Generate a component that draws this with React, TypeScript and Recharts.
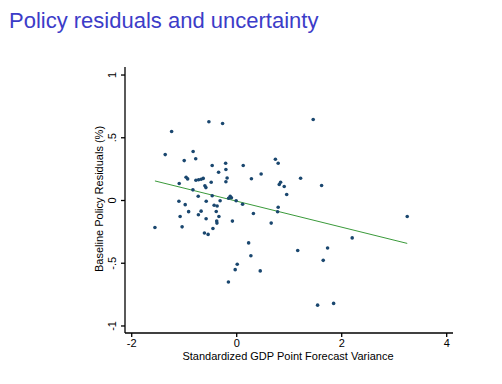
import React from "react";
import { ScatterChart, Scatter, XAxis, YAxis } from "recharts";

const title = "Policy residuals and uncertainty";
const xAxisTitle = "Standardized GDP Point Forecast Variance";
const yAxisTitle = "Baseline Policy Residuals (%)";

const xTicks = [-2, 0, 2, 4];
const xTickLabels = ["-2", "0", "2", "4"];
const yTicks = [-1, -0.5, 0, 0.5, 1];
const yTickLabels = ["-1", "-.5", "0", ".5", "1"];

const forecastVariance = [
  -1.24, -0.53, -0.269, -1.362, -0.83, -0.781, -1.0, -0.467, -0.211, -0.206,
  0.124, -0.345, 0.737, 0.79, 0.465, 0.28, -0.964, -0.935, -0.777, -0.726,
  -0.678, -0.638, -0.183, -0.206, -0.486, -1.095, -0.606, -0.587, 0.81, 0.836,
  0.905, 1.217, 1.457, 1.617, -0.834, -0.733, -0.467, -0.124, -0.101, -0.154,
  -0.011, -1.101, -0.981, -0.581, -0.316, -0.43, -0.373, 0.112, 0.952, 0.79,
  0.779, 3.248, -1.078, -0.916, -0.73, -0.678, -0.39, -0.583, -0.339, -0.381,
  -0.377, -1.04, -1.558, -0.453, -0.082, 0.318, 0.657, -0.615, -0.545, 0.227,
  0.27, 0.01, -0.029, 0.448, -0.158, 2.2, 1.162, 1.731, 1.648, 1.541, 1.846,
];

const policyResiduals = [
  0.55, 0.628, 0.614, 0.366, 0.391, 0.333, 0.318, 0.279, 0.297, 0.247,
  0.279, 0.225, 0.329, 0.297, 0.211, 0.173, 0.185, 0.172, 0.161, 0.165,
  0.169, 0.176, 0.179, 0.149, 0.145, 0.135, 0.117, 0.103, 0.127, 0.145,
  0.111, 0.177, 0.646, 0.119, 0.085, 0.034, 0.038, 0.034, 0.022, 0.018,
  -0.002, -0.006, -0.033, -0.006, -0.002, -0.038, -0.044, -0.03, 0.048, -0.054,
  -0.09, -0.128, -0.128, -0.089, -0.114, -0.085, -0.088, -0.146, -0.128, -0.164,
  -0.18, -0.21, -0.215, -0.223, -0.164, -0.104, -0.18, -0.259, -0.27, -0.338,
  -0.44, -0.508, -0.551, -0.561, -0.649, -0.298, -0.399, -0.379, -0.477, -0.834, -0.82,
];

const fitX = [-1.558, 3.248];
const fitY = [0.156, -0.342];

const points = forecastVariance.map((x, i) => ({ x, y: policyResiduals[i] }));
const fitLine = fitX.map((x, i) => ({ x, y: fitY[i] }));

const FONT = "'Liberation Sans', Arial, sans-serif";

const Dot = (props: any) => {
  const { cx, cy } = props;
  if (cx == null || cy == null) return <g />;
  return <circle cx={cx} cy={cy} r={1.8} fill="#1a476f" />;
};

const NoDot = () => <g />;

const XTick = (props: any) => {
  const { x, y, payload } = props;
  const idx = xTicks.indexOf(payload.value);
  return (
    <text x={x} y={y} dy="0.71em" textAnchor="middle" fontFamily={FONT} fontSize={11} fill="#000">
      {idx >= 0 ? xTickLabels[idx] : payload.value}
    </text>
  );
};

const YTick = (props: any) => {
  const { x, y, payload } = props;
  const idx = yTicks.indexOf(payload.value);
  const bx = x - 3;
  return (
    <text
      x={bx}
      y={y}
      textAnchor="middle"
      transform={`rotate(-90, ${bx}, ${y})`}
      fontFamily={FONT}
      fontSize={11}
      fill="#000"
    >
      {idx >= 0 ? yTickLabels[idx] : payload.value}
    </text>
  );
};

const XTitle = (props: any) => {
  const vb = props.viewBox || {};
  const cx = vb.x + vb.width / 2 - 1;
  return (
    <text x={cx} y={vb.y + 27} textAnchor="middle" fontFamily={FONT} fontSize={11} fill="#000">
      {xAxisTitle}
    </text>
  );
};

const YTitle = (props: any) => {
  const vb = props.viewBox || {};
  const bx = vb.x + vb.width - 22;
  const cy = vb.y + vb.height / 2 - 1;
  return (
    <text
      x={bx}
      y={cy}
      textAnchor="middle"
      transform={`rotate(-90, ${bx}, ${cy})`}
      fontFamily={FONT}
      fontSize={11}
      fill="#000"
    >
      {yAxisTitle}
    </text>
  );
};

export default function App() {
  return (
    <div style={{ position: "absolute", left: 0, top: 0, width: 502, height: 384, background: "#fff" }}>
      <div
        style={{
          position: "absolute",
          left: 9,
          top: 9.5,
          fontFamily: FONT,
          fontSize: 22,
          lineHeight: "22px",
          color: "#3c3cc8",
          whiteSpace: "nowrap",
        }}
      >
        {title}
      </div>
      <ScatterChart
        width={502}
        height={384}
        margin={{ top: 67, right: 49, bottom: 21, left: 95 }}
      >
        <XAxis
          type="number"
          dataKey="x"
          domain={[-2.128, 4.12]}
          ticks={xTicks}
          allowDataOverflow
          height={30}
          tickSize={4}
          tickMargin={2}
          axisLine={{ stroke: "#000", strokeWidth: 1.3 }}
          tickLine={{ stroke: "#000", strokeWidth: 1.3 }}
          tick={<XTick />}
          label={<XTitle />}
        />
        <YAxis
          type="number"
          dataKey="y"
          domain={[-1.056, 1.064]}
          ticks={yTicks}
          allowDataOverflow
          width={30}
          tickSize={4}
          tickMargin={2}
          axisLine={{ stroke: "#000", strokeWidth: 1.3 }}
          tickLine={{ stroke: "#000", strokeWidth: 1.3 }}
          tick={<YTick />}
          label={<YTitle />}
        />
        <Scatter
          data={fitLine}
          line={{ stroke: "#3a9a3a", strokeWidth: 1 }}
          shape={<NoDot />}
          isAnimationActive={false}
        />
        <Scatter data={points} shape={<Dot />} isAnimationActive={false} />
      </ScatterChart>
    </div>
  );
}
